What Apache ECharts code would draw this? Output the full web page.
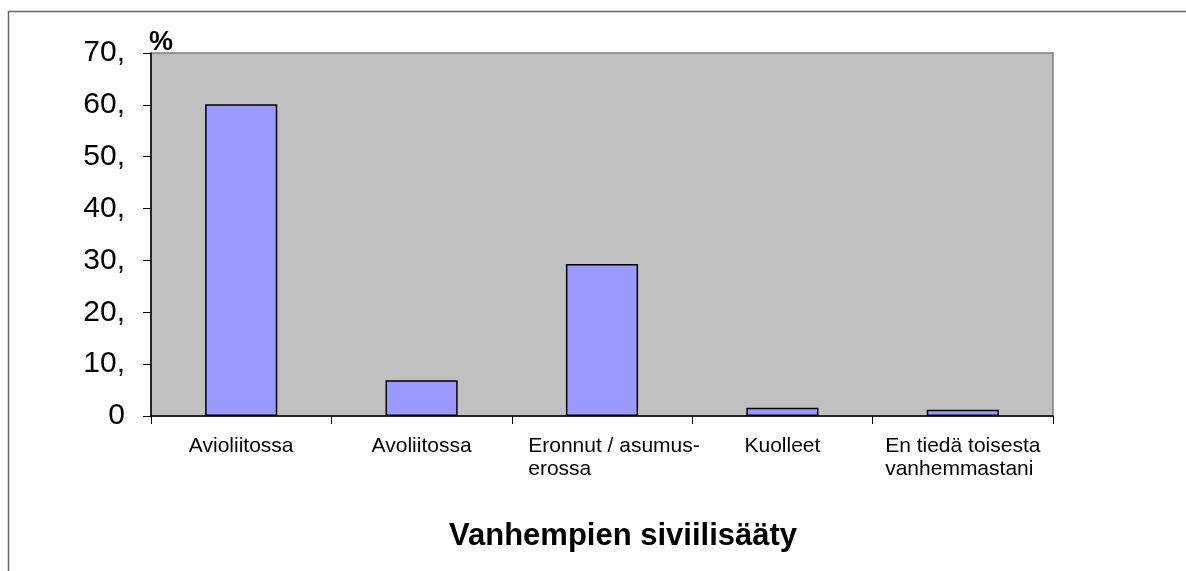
<!DOCTYPE html>
<html>
<head>
<meta charset="utf-8">
<script src="https://cdn.jsdelivr.net/npm/echarts@6/dist/echarts.min.js"></script>
<style>
  html, body { margin: 0; padding: 0; background: #fff; }
  #main { width: 1186px; height: 571px; }
</style>
</head>
<body>
<div id="main"></div>
<script>
// data
var categories = ['Avioliitossa', 'Avoliitossa', 'Eronnut / asumus-\nerossa', 'Kuolleet', 'En tiedä toisesta\nvanhemmastani'];
var values = [60.1, 6.9, 29.3, 1.6, 1.2];
var yTicks = [0, 10, 20, 30, 40, 50, 60, 70];

var font = 'Arial, "Liberation Sans", sans-serif';
var labelSize = 21;

// width of the wrapped "Eronnut" label, to shift it like the original
var ctx = document.createElement('canvas').getContext('2d');
ctx.font = labelSize + 'px ' + font;
var eronW = ctx.measureText('Eronnut / asumus-').width;
var eronPad = Math.max(0, Math.round(eronW - 148));

var myChart = echarts.init(document.getElementById('main'));

var option = {
    backgroundColor: '#fff',
    animation: false,
    title: {
        text: 'Vanhempien siviilisääty',
        left: 444,
        top: 516,
        textStyle: { fontFamily: font, fontSize: 31, fontWeight: 'bold', color: '#000' }
    },
    graphic: [{
        type: 'rect',
        shape: { x: 8.5, y: 11.5, width: 1300, height: 700 },
        style: { fill: 'none', stroke: '#666', lineWidth: 1.5 },
        silent: true
    }],
    grid: {
        left: 151, right: 133, top: 53, bottom: 155,
        show: true,
        backgroundColor: '#C0C0C0',
        borderColor: '#808080',
        borderWidth: 1.5
    },
    xAxis: {
        type: 'category',
        data: categories,
        axisLine: { lineStyle: { color: '#000', width: 1.5 } },
        axisTick: { show: true, length: 8, lineStyle: { color: '#000' } },
        axisLabel: {
            margin: 19,
            color: '#000',
            fontFamily: font,
            fontSize: labelSize,
            lineHeight: 23,
            interval: 0,
            formatter: function (v) {
                if (v.indexOf('\n') < 0) return v;
                var st = v.indexOf('Eronnut') === 0 ? 'e' : 'l';
                return v.split('\n').map(function (s) { return '{' + st + '|' + s + '}'; }).join('\n');
            },
            rich: {
                l: { fontFamily: font, fontSize: labelSize, lineHeight: 23, color: '#000', align: 'left' },
                e: { fontFamily: font, fontSize: labelSize, lineHeight: 23, color: '#000', align: 'left', padding: [0, 0, 0, eronPad] }
            }
        }
    },
    yAxis: {
        type: 'value',
        min: 0,
        max: 70,
        interval: 10,
        name: '%',
        nameLocation: 'end',
        nameGap: -3,
        nameTextStyle: { fontFamily: font, fontSize: 27, fontWeight: 'bold', color: '#000', align: 'left', padding: [0, 0, 0, -2] },
        splitLine: { show: false },
        axisLine: { show: true, lineStyle: { color: '#000', width: 1.5 } },
        axisTick: { show: true, length: 8, lineStyle: { color: '#000' } },
        axisLabel: {
            margin: 26,
            color: '#000',
            fontFamily: font,
            fontSize: 30,
            padding: [7, 0, 0, 0],
            customValues: yTicks,
            formatter: function (v) { return v === 0 ? '0' : v + ','; }
        }
    },
    series: [{
        type: 'bar',
        data: values,
        barWidth: '40%',
        itemStyle: { color: '#9999FF', borderColor: '#000', borderWidth: 1.5 }
    }]
};
myChart.setOption(option);
</script>
</body>
</html>
